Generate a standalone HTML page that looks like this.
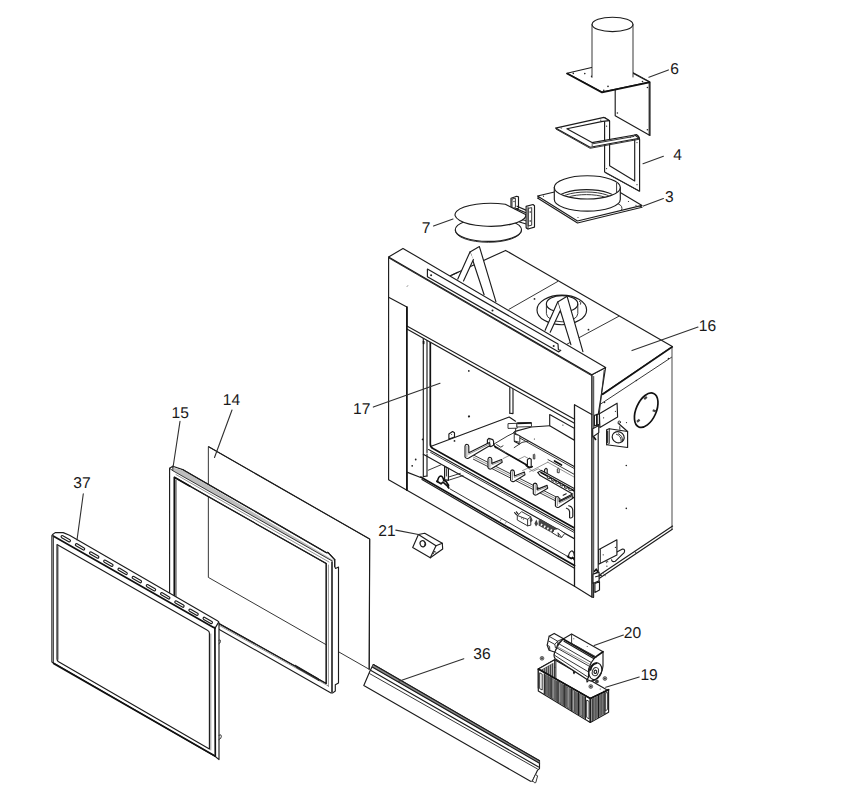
<!DOCTYPE html>
<html lang="en"><head><meta charset="utf-8"><title>Fireplace exploded parts diagram</title>
<style>
html,body{margin:0;padding:0;background:#fff}
svg{display:block}
.k{stroke:#1c1c1c;stroke-width:1.15;fill:none;stroke-linejoin:round;stroke-linecap:round}
.b{stroke:#111;stroke-width:1.7;fill:none;stroke-linejoin:round;stroke-linecap:round}
.t{stroke:#2c2c2c;stroke-width:.95;fill:none;stroke-linejoin:round;stroke-linecap:round}
.h{stroke:#666;stroke-width:.7;fill:none;stroke-linecap:round}
.w{fill:#fff}
.e{fill-rule:evenodd}
.g1{stroke:#5a5a5a;stroke-width:1.1;fill:none}
.ld{stroke:#303030;stroke-width:1.1;fill:none;stroke-linecap:round}
.rb{stroke:#4a4a4a;stroke-width:2;fill:none}
.gm{fill:#8e8e8e}
.gs{fill:#9a9a9a;stroke:#444;stroke-width:.7}
.hd{stroke:#3a3a3a;stroke-width:.75;fill:none}
.hw{stroke:#ddd;stroke-width:.6;fill:none}
.n{stroke:none}
.gy{fill:#bdbdbd}
.gd{fill:#8a8a8a}
.dk{fill:#444}
.d{fill:#222;stroke:none}
text{font-family:"Liberation Sans",Arial,Helvetica,sans-serif;font-size:15.6px;fill:#1a1a1a;text-rendering:geometricPrecision}
</style></head>
<body>
<svg width="859" height="800" viewBox="0 0 859 800">
<rect class="w n" x="0" y="0" width="859" height="800"/>
<!-- part 6 -->
<polygon class="k w" points="615.2,63.0 615.2,115.8 650.0,135.5 650.0,82.0"/>
<line class="k" x1="649.2" y1="82.5" x2="649.2" y2="135.0"/>
<circle class="d" cx="647.4" cy="87.5" r="0.8"/>
<circle class="d" cx="617.4" cy="113.0" r="0.8"/>
<circle class="d" cx="647.4" cy="129.8" r="0.8"/>
<polygon class="k w" points="567.0,73.3 602.0,92.0 649.3,82.0 613.0,62.5"/>
<polyline class="b" points="567.0,73.6 602.0,92.4 649.3,82.4"/>
<circle class="d" cx="573.3" cy="73.4" r="0.8"/>
<circle class="d" cx="584.8" cy="73.6" r="0.8"/>
<circle class="d" cx="603.8" cy="90.4" r="0.8"/>
<circle class="d" cx="608.0" cy="86.4" r="0.8"/>
<circle class="d" cx="642.5" cy="81.6" r="0.8"/>
<circle class="d" cx="591.6" cy="76.4" r="0.8"/>
<rect class="w n" x="592" y="24" width="41" height="50"/>
<path class="w n" d="M592,68 L592,77 Q612,86 633,75 L633,68 Z"/>
<line class="t" x1="592.0" y1="24.5" x2="592.0" y2="77.3"/>
<line class="t" x1="633.0" y1="24.5" x2="633.0" y2="77.0"/>
<ellipse class="k w" cx="612.5" cy="24.4" rx="20.4" ry="7.2"/>
<!-- part 4 -->
<path class="k w" d="M604.6,117.6 L604.6,172.1 L639.6,191.2 L639.6,139.5 Q639.4,136.5 636.3,134.6 L634.7,135 L634.7,180.9 L609.6,165.8 L609.6,121.0 Z"/>
<polyline class="t" points="605.6,172.8 638.6,190.8"/>
<path class="k w" d="M555.5,128.1 L604.0,117.4 L609.3,120.6 L602.7,121.4 L566.9,128.8 L592.0,142.6 L634.7,135.0 L639.3,138.2 L590.1,147.2 Z"/>
<polyline class="t" points="556.2,129.2 590.1,148.3 639.0,139.3"/>
<polyline class="t" points="592.0,143.9 634.0,136.4"/>
<circle class="d" cx="561.2" cy="128.1" r="0.6"/>
<circle class="d" cx="600.8" cy="120.2" r="0.6"/>
<circle class="d" cx="606.6" cy="126.2" r="0.6"/>
<circle class="d" cx="592.2" cy="145.2" r="0.6"/>
<circle class="d" cx="630.3" cy="137.2" r="0.6"/>
<circle class="d" cx="637.0" cy="142.6" r="0.6"/>
<circle class="d" cx="606.6" cy="168.6" r="0.6"/>
<circle class="d" cx="637.0" cy="184.7" r="0.6"/>
<!-- part 3 -->
<polygon class="k w" points="537.5,198.0 577.5,223.0 642.0,207.3 601.0,183.0"/>
<polygon class="k w" points="537.5,196.0 577.5,221.0 642.0,205.4 601.0,181.0"/>
<circle class="d" cx="543.5" cy="196.2" r="0.6"/>
<circle class="d" cx="578.0" cy="217.5" r="0.6"/>
<circle class="d" cx="636.0" cy="205.3" r="0.6"/>
<circle class="d" cx="628.5" cy="201.5" r="0.6"/>
<path class="k w" d="M554.3,187.4 L554.3,199.5 A33,11.6 0 0 0 620.3,199.5 L620.3,187.4 Z"/>
<path class="t" d="M618.5,204 Q623.5,206 621.5,210.5"/>
<ellipse class="k w" cx="587.3" cy="187.4" rx="33.0" ry="11.6"/>
<clipPath id="c3"><ellipse cx="587.3" cy="187.4" rx="32.4" ry="11"/></clipPath>
<g clip-path="url(#c3)">
<ellipse class="k" cx="586.5" cy="200.2" rx="30.5" ry="10.6"/>
<ellipse class="t" cx="586.5" cy="201.6" rx="28.5" ry="9.6"/>
<ellipse class="t" cx="586.5" cy="203.2" rx="26.5" ry="8.6"/>
</g>
<line class="t" x1="616.6" y1="183.4" x2="616.6" y2="192.4"/>
<!-- part 7 -->
<polygon class="k w" points="511.0,198.2 516.7,196.3 518.5,196.9 518.5,208.3 513.5,209.6 511.0,208.0"/>
<polygon class="t w" points="512.4,198.9 515.4,198.2 515.4,207.6 512.4,208.3"/>
<ellipse class="t w" cx="488.4" cy="230.6" rx="33.1" ry="11.7"/>
<ellipse class="k w" cx="488.4" cy="229.7" rx="33.1" ry="11.7"/>
<polyline class="k" points="517.0,206.2 526.5,210.4"/>
<polyline class="k" points="516.0,208.6 526.5,213.0"/>
<polyline class="k" points="519.5,222.0 527.0,224.2 527.0,228.4"/>
<polyline class="t" points="521.0,219.4 527.0,221.0"/>
<path class="k w" d="M505.3,204.3 A35.6,11.5 0 1 0 526.0,216.0 L525.6,214.6 Z"/>
<polygon class="k w" points="526.1,206.4 533.0,204.5 534.5,205.7 534.5,227.1 528.0,229.0 526.1,227.7"/>
<polygon class="t w" points="528.6,208.3 531.7,207.6 531.7,225.2 528.6,225.9"/>
<line class="t" x1="528.0" y1="229.0" x2="528.0" y2="207.4"/>
<circle class="d" cx="530.2" cy="212.0" r="0.8"/>
<circle class="d" cx="530.2" cy="221.0" r="0.8"/>
<circle class="d" cx="514.0" cy="201.5" r="0.7"/>
<!-- firebox top face -->
<polygon class="k w" points="505.6,250.4 672.3,346.5 602.7,393.9 500.0,340.0 440.0,280.5"/>
<line class="t" x1="557.7" y1="281.5" x2="509.0" y2="309.3"/>
<line class="t" x1="618.8" y1="316.3" x2="566.4" y2="344.5"/>
<circle class="d" cx="534.5" cy="298.9" r="0.9"/>
<circle class="d" cx="588.5" cy="329.7" r="0.9"/>
<ellipse class="k" cx="561.8" cy="309.9" rx="24.8" ry="14.8"/>
<path class="t" d="M546.4,304.2 L546.4,313.6 A15.7,8.2 0 0 0 577.8,313.6 L577.8,304.2"/>
<ellipse class="k" cx="562.1" cy="303.9" rx="15.7" ry="8.2"/>
<path class="t" d="M579.3,301.2 l1.6,1.2 l-0.4,1.8"/>
<!-- firebox right side -->
<polygon class="w n" points="672.3,346.5 672.3,529.2 598.7,578.8 597.6,397.4 602.7,393.9"/>
<polyline class="g1" points="672.0,347.5 672.0,529.2"/>
<polyline class="k" points="672.3,529.2 598.7,578.8"/>
<polyline class="t" points="671.5,357.3 600.7,404.0"/>
<polyline class="b" points="672.3,346.9 602.7,394.3"/>
<polyline class="k" points="672.6,526.0 597.6,576.2"/>
<circle class="d" cx="668.5" cy="358.5" r="0.8"/>
<circle class="d" cx="636.4" cy="380.5" r="0.8"/>
<circle class="d" cx="604.5" cy="402.5" r="0.8"/>
<circle class="d" cx="626.3" cy="465.5" r="0.8"/>
<circle class="d" cx="626.3" cy="508.4" r="0.8"/>
<ellipse class="b" cx="646.2" cy="410.2" rx="10.0" ry="18.3" transform="rotate(24.0 646.2 410.2)"/>
<rect class="dk n" x="643.8" y="396.9" width="3.4" height="2.2" transform="rotate(-40 645.5 398.0)"/>
<rect class="dk n" x="652.6" y="409.7" width="3.4" height="2.2" transform="rotate(20 654.3 410.8)"/>
<rect class="dk n" x="636.6" y="419.6" width="3.4" height="2.2" transform="rotate(-40 638.3 420.7)"/>
<polygon class="k w" points="599.4,413.8 617.1,403.2 617.6,417.1 599.9,427.6"/>
<circle class="d" cx="615.4" cy="411.3" r="0.6"/>
<circle class="d" cx="603.6" cy="417.8" r="0.6"/>
<polyline class="k" points="618.2,423.2 627.6,431.5"/>
<polyline class="t" points="619.8,426.6 619.8,429.3"/>
<circle class="t w" cx="619.3" cy="422.2" r="1.2"/>
<polygon class="k w" points="609.3,428.7 627.6,431.5 627.6,447.5 606.6,444.7 606.6,429.8"/>
<polyline class="t" points="609.3,428.7 609.3,443.6 606.6,444.7"/>
<polyline class="k" points="607.7,431.0 607.7,442.5"/>
<ellipse class="k" cx="618.2" cy="437.2" rx="6.1" ry="5.5" transform="rotate(25.0 618.2 437.2)"/>
<path class="t" d="M616.4,434.2 q5.2,1.6 4.8,7.2 M618.3,433.7 q4.6,2.0 4.2,6.9"/>
<circle class="d" cx="626.5" cy="422.6" r="0.6"/>
<path class="k" d="M616.9,552 L622.5,549 Q625.6,549 624.2,552.6 L615.4,561.2 Q612,562.4 611.6,559.8"/>
<polygon class="k w" points="598.6,549.7 616.9,539.8 616.9,554.9 598.6,564.2"/>
<line class="t" x1="600.4" y1="549.2" x2="600.4" y2="563.2"/>
<circle class="d" cx="603.2" cy="554.8" r="0.6"/>
<circle class="d" cx="615.4" cy="547.4" r="0.6"/>
<circle class="d" cx="606.7" cy="562.6" r="0.6"/>
<circle class="d" cx="606.9" cy="566.2" r="0.6"/>
<path class="t" d="M605.8,561.4 q1.2,-1.2 2.2,0"/>
<line class="t" x1="635.0" y1="551.8" x2="636.6" y2="553.3"/>
<line class="t" x1="603.7" y1="574.0" x2="605.3" y2="575.5"/>
<!-- A-frame stand-offs -->
<polygon class="w n" points="470.0,251.9 479.4,246.6 495.9,301.6 484.1,294.7"/>
<polyline class="k" points="484.1,294.7 470.0,251.9 479.4,246.6 495.9,301.6"/>
<polygon class="w n" points="470.0,251.9 457.8,279.1 463.5,281.0 473.4,259.4"/>
<polyline class="k" points="457.8,279.1 470.0,251.9"/>
<polyline class="k" points="473.4,259.4 463.5,281.0"/>
<polyline class="k" points="452.0,275.0 458.0,272.2"/>
<polygon class="w n" points="557.7,302.0 567.1,296.3 582.9,351.7 570.9,344.7"/>
<polyline class="k" points="570.9,344.7 557.7,302.0 567.1,296.3 582.9,351.7"/>
<polygon class="w n" points="557.7,302.0 545.1,330.3 550.2,332.2 560.2,310.8"/>
<polyline class="k" points="545.1,330.3 557.7,302.0"/>
<polyline class="k" points="560.2,310.8 550.2,332.2"/>
<!-- firebox front face -->
<polygon class="k w" points="591.8,374.8 605.6,367.5 599.8,404.5 598.2,414.5 598.2,571.5 593.4,575.0 593.4,597.4 591.8,597.0"/>
<polyline class="t" points="604.2,370.2 599.2,414.5"/>
<line class="t" x1="593.7" y1="376.5" x2="593.7" y2="597.0"/>
<polygon class="k w" points="388.6,257.0 591.8,374.8 591.8,597.0 574.5,586.2 388.6,479.7"/>
<polygon class="k w" points="388.6,257.0 403.0,248.4 605.6,367.5 591.8,374.8"/>
<polyline class="t" points="388.6,257.9 591.8,375.8"/>
<polyline class="k" points="388.6,297.2 406.9,307.0 406.9,490.2"/>
<polyline class="k" points="574.5,586.2 574.5,404.8 591.8,414.6"/>
<line class="h" x1="407.0" y1="286.6" x2="407.8" y2="285.6"/>
<polygon class="w n" points="406.9,326.1 574.5,419.2 574.5,565.5 420.7,477.1 406.9,472.1"/>
<polyline class="k" points="406.9,326.1 574.5,419.2"/>
<polyline class="k" points="406.9,329.0 574.5,423.3"/>
<clipPath id="op"><polygon points="407.4,329.4 574.0,423.6 574.0,565.2 420.7,477.1 407.4,472.3"/></clipPath>
<g clip-path="url(#op)">
<polyline class="k" points="509.8,385.0 509.8,413.2"/>
<polyline class="k" points="513.0,385.0 513.0,413.6 509.8,413.2"/>
<polyline class="k" points="430.6,446.5 509.2,417.0 515.5,421.2"/>
<polygon class="k w" points="549.7,414.5 574.4,428.3 574.4,440.2 549.7,425.8"/>
<circle class="d" cx="562.9" cy="425.1" r="0.6"/>
<polyline class="k" points="515.1,431.4 531.4,427.0 549.7,425.8"/>
<polyline class="k" points="513.8,432.7 574.4,466.6"/>
<polyline class="t" points="515.2,435.4 574.4,468.6"/>
<polyline class="k" points="513.8,432.7 515.1,431.4"/>
<circle class="d" cx="534.4" cy="439.0" r="0.6"/>
<polygon class="t w" points="508.4,423.6 517.2,423.3 517.2,428.2 508.4,428.4"/>
<polygon class="t w" points="517.2,422.9 531.2,422.5 531.6,426.6 517.2,427.0"/>
<polyline class="b" points="518.0,423.4 531.0,423.0"/>
<polyline class="t" points="515.6,428.4 515.6,433.4"/>
<polygon class="t w" points="514.6,434.2 519.8,435.6 519.8,442.4 514.6,441.0"/>
<polyline class="t" points="514.2,447.6 522.0,442.4 528.0,441.2"/>
<polyline class="k" points="514.4,441.4 519.5,444.0"/>
<polygon class="k w" points="448.9,439.0 448.9,434.0 452.6,431.5 454.5,432.7 454.5,437.0"/>
<circle class="d" cx="451.6" cy="434.4" r="0.5"/>
<circle class="d" cx="469.2" cy="416.3" r="0.9"/>
<circle class="d" cx="454.5" cy="440.9" r="0.9"/>
<circle class="d" cx="468.8" cy="370.9" r="0.9"/>
<circle class="d" cx="422.6" cy="439.4" r="0.9"/>
<circle class="d" cx="415.7" cy="459.5" r="0.9"/>
<circle class="d" cx="412.2" cy="465.8" r="0.9"/>
<circle class="d" cx="468.8" cy="416.5" r="0.9"/>
<polyline class="t" points="494.1,444.0 507.9,435.8 513.6,433.0"/>
<polyline class="t" points="494.1,444.0 495.6,448.0"/>
<polyline class="h" points="529.5,471.7 547.8,462.2"/>
<polyline class="h" points="547.8,462.2 574.0,477.0"/>
<polyline class="h" points="503.0,458.6 509.5,455.4 517.6,459.8 524.6,456.4 530.4,459.6"/>
<polyline class="h" points="522.5,470.6 527.8,468.2 533.2,471.2 538.2,468.8 543.0,471.6"/>
<polyline class="b" points="494.8,446.6 527.6,465.6"/>
<polyline class="t" points="496.6,444.6 500.8,447.2 503.0,445.8"/>
<polyline class="h" points="498.0,448.0 505.6,452.6"/>
<polygon class="k w" points="527.4,466.4 527.4,459.6 529.4,458.2 531.2,459.2 531.2,466.8 529.2,467.8"/>
<path class="b" d="M526.2,465.4 q3,3.2 6,1.2"/>
<polygon class="k w" points="544.6,475.2 544.6,469.6 545.9,468.3 547.2,469.2 547.2,475.6"/>
<path class="b" d="M543.4,474.4 q3,3.4 6,1.4"/>
<polygon class="t w" points="533.3,458.4 533.3,454.6 534.0,453.9 534.8,454.6 534.8,458.6"/>
<polygon class="t w" points="557.3,472.2 557.3,469.0 558.2,468.2 559.2,469.0 559.2,472.4"/>
<polygon class="k w" points="537.7,472.4 541.5,470.4 574.4,488.6 574.4,497.0 563.5,503.0 560.0,500.6 572.6,494.0 540.2,475.6"/>
<polyline class="b" points="541.0,472.6 574.4,491.0"/>
<ellipse class="t w" cx="548.6" cy="477.6" rx="1.5" ry="0.9" transform="rotate(29 548.6 477.6)"/>
<ellipse class="t w" cx="552.9" cy="480.0" rx="1.5" ry="0.9" transform="rotate(29 552.9 480.0)"/>
<ellipse class="t w" cx="557.2" cy="482.4" rx="1.5" ry="0.9" transform="rotate(29 557.2 482.4)"/>
<ellipse class="t w" cx="561.5" cy="484.8" rx="1.5" ry="0.9" transform="rotate(29 561.5 484.8)"/>
<ellipse class="t w" cx="565.8" cy="487.2" rx="1.5" ry="0.9" transform="rotate(29 565.8 487.2)"/>
<ellipse class="t w" cx="570.1" cy="489.6" rx="1.5" ry="0.9" transform="rotate(29 570.1 489.6)"/>
<polyline class="k" points="563.2,495.2 566.2,493.8"/>
<polyline class="t" points="548.0,459.6 574.0,474.2"/>
<polyline class="b" points="554.5,461.0 561.5,465.0"/>
<polyline class="t" points="473.4,455.0 562.0,499.9"/>
<polyline class="h" points="473.4,457.1 562.0,502.0"/>
<polyline class="t" points="473.4,459.2 562.0,504.1"/>
<polygon class="k w" points="487.4,445.6 487.4,440.0 488.8,438.4 492.8,439.6 493.6,441.4 493.6,445.2 491.0,446.6"/>
<polyline class="h" points="489.8,439.4 489.8,445.4"/>
<path class="k w" d="M465.0,457.0 L465.0,446.3 Q465.0,444.4 466.8,444.3 Q468.6,444.4 468.8,446.4 L468.8,452.8 L489.4,442.6 L490.0,445.4 L468.4,458.2 Q466.4,459.2 465.0,457.0 Z"/>
<polyline class="h" points="466.9,446.0 466.9,456.8"/>
<polyline class="h" points="468.8,454.2 489.6,444.0"/>
<path class="k w" d="M488.0,467.6 L488.0,459.3 Q488.0,457.4 489.8,457.3 Q491.6,457.4 491.8,459.4 L491.8,463.4 L501.6,459.5 L502.2,462.3 L491.4,468.8 Q489.4,469.8 488.0,467.6 Z"/>
<polyline class="h" points="489.9,459.0 489.9,467.4"/>
<polyline class="h" points="491.8,464.8 501.8,460.9"/>
<path class="k w" d="M510.6,480.2 L510.6,471.9 Q510.6,470.0 512.4,469.9 Q514.2,470.0 514.4,472.0 L514.4,476.0 L524.4,472.0 L525.0,474.8 L514.0,481.4 Q512.0,482.4 510.6,480.2 Z"/>
<polyline class="h" points="512.5,471.6 512.5,480.0"/>
<polyline class="h" points="514.4,477.4 524.6,473.4"/>
<path class="k w" d="M533.3,493.6 L533.3,485.1 Q533.3,483.2 535.1,483.1 Q536.9,483.2 537.1,485.2 L537.1,489.4 L547.1,485.4 L547.7,488.2 L536.7,494.8 Q534.7,495.8 533.3,493.6 Z"/>
<polyline class="h" points="535.2,484.8 535.2,493.4"/>
<polyline class="h" points="537.1,490.8 547.3,486.8"/>
<path class="k w" d="M555.4,506.0 L555.4,498.5 Q555.4,496.6 557.2,496.5 Q559.0,496.6 559.2,498.6 L559.2,501.8 L572.2,495.4 L572.8,498.2 L558.8,507.2 Q556.8,508.2 555.4,506.0 Z"/>
<polyline class="h" points="557.3,498.2 557.3,505.8"/>
<polyline class="h" points="559.2,503.2 572.4,496.8"/>
<path class="k w" d="M568.6,505.8 Q572.8,506.6 572.8,511.0 L572.8,516.4 Q572.0,518.6 569.6,517.8 L569.6,511.6 Q569.4,509.0 566.4,508.2"/>
<polyline class="k" points="423.3,338.0 423.3,476.6"/>
<polyline class="k" points="427.0,340.2 427.0,452.6"/>
<path class="b" d="M430.3,342.2 L430.3,444.4 Q430.4,447.2 433.0,448.4 L574.4,528.0"/>
<polyline class="k" points="428.6,449.6 574.4,530.6"/>
<polyline class="t" points="430.6,452.4 574.4,532.6"/>
<polyline class="k" points="423.3,454.2 574.4,538.7"/>
<line class="b" x1="423.6" y1="341.6" x2="423.6" y2="343.4"/>
<polyline class="k" points="427.0,454.0 427.0,476.0"/>
<polyline class="t" points="428.3,470.2 441.5,464.6"/>
<polygon class="k w" points="444.6,479.6 444.6,466.4 448.4,468.4 448.4,480.4"/>
<polyline class="t" points="446.4,468.6 446.4,476.0"/>
<polyline class="t" points="448.4,477.1 460.3,473.4"/>
<polyline class="t" points="448.4,480.3 463.0,475.6"/>
<polyline class="k" points="423.3,476.6 427.0,476.0"/>
<path class="b" d="M437.4,481.6 q1.0,-5.4 3.4,-5.6 q2.2,0.4 3.0,4.6 q2.4,-0.2 3.2,2.4 q2.0,1.8 1.2,4.0"/>
<path class="b" d="M436.8,481.2 l4.2,2.6 l2.0,-1.6 l4.2,3.6 l1.6,2.2"/>
<polyline class="t" points="450.3,489.1 570.4,558.0"/>
<polyline class="h" points="500.4,520.6 501.4,519.0"/>
<polyline class="h" points="505.4,523.4 506.4,521.8"/>
<polygon class="t w" points="517.6,515.6 521.6,511.6 530.8,516.8 530.8,525.2 527.6,525.8 517.6,520.2"/>
<polyline class="t" points="530.8,516.8 527.6,519.4 527.6,525.8"/>
<polyline class="t" points="527.6,519.4 517.6,515.6"/>
<polyline class="k" points="514.6,512.6 516.6,514.8"/>
<polyline class="k" points="516.4,511.8 518.0,513.8"/>
<circle class="d" cx="521.6" cy="518.0" r="0.6"/>
<circle class="d" cx="523.4" cy="519.0" r="0.6"/>
<polygon class="dk n" points="529.6,520.0 531.6,517.6 532.6,520.6 530.6,522.6"/>
<polygon class="dk n" points="534.4,523.6 536.4,519.6 538.0,524.0 536.0,526.6"/>
<polygon class="dk n" points="538.6,520.6 541.4,519.6 555.6,528.0 554.6,532.0 551.6,532.8 538.6,525.4"/>
<rect class="w n" x="541.4" y="523.4" width="1.5" height="2.2" transform="rotate(30 541.4 523.4)"/>
<rect class="w n" x="544.6" y="525.3" width="1.5" height="2.2" transform="rotate(30 544.6 525.3)"/>
<rect class="w n" x="547.8" y="527.2" width="1.5" height="2.2" transform="rotate(30 547.8 527.2)"/>
<rect class="w n" x="551.0" y="529.1" width="1.5" height="2.2" transform="rotate(30 551.0 529.1)"/>
<polygon class="t w" points="554.6,529.2 558.0,528.8 564.8,533.4 561.6,537.4 558.6,536.6 552.6,533.0"/>
<polyline class="t" points="558.6,536.6 558.0,532.8 561.6,537.4"/>
<path class="k" d="M568.4,557.6 q0.2,-5.6 3.6,-6.8 q2.4,1.2 2.2,5.0"/>
<path class="b" d="M567.6,556.4 l3.6,2.2 l1.6,-1.2 l1.6,2.4"/>
</g>
<polyline class="b" points="406.9,307.0 406.9,490.0"/>
<polyline class="k" points="574.5,404.8 574.5,586.2"/>
<polyline class="k" points="406.9,472.1 420.7,477.5"/>
<polyline class="b" points="420.7,477.1 574.5,565.5"/>
<polyline class="k" points="422.0,479.6 574.5,568.2"/>
<polygon class="k w" points="427.4,269.0 558.0,344.1 558.4,349.8 560.8,350.2 558.8,351.9 427.4,276.8"/>
<circle class="d" cx="431.1" cy="275.2" r="1.0"/>
<circle class="d" cx="492.5" cy="310.6" r="1.0"/>
<circle class="d" cx="553.7" cy="345.9" r="1.0"/>
<polygon class="k w" points="594.4,415.4 599.4,413.8 599.4,424.3 594.4,425.9"/>
<polygon class="k w" points="592.7,428.7 598.8,425.4 598.8,432.6 592.7,437.0"/>
<line class="b" x1="596.9" y1="414.6" x2="596.9" y2="425.1"/>
<polyline class="b" points="594.2,437.6 595.6,439.4"/>
<polygon class="k w" points="593.0,574.1 599.1,572.2 599.1,580.7 593.0,583.5"/>
<polygon class="k w" points="594.9,583.5 599.5,581.6 599.5,590.0 594.9,592.4"/>
<polyline class="k" points="595.6,576.8 601.5,575.2"/>
<polyline class="b" points="594.5,571.2 596.2,569.2 597.6,571.4"/>
<!-- part 14 glass -->
<polygon class="t w" points="208.7,446.8 369.7,539.1 369.2,669.3 208.7,577.6"/>
<polyline class="k" points="208.7,446.8 369.7,539.1 369.2,669.3"/>
<!-- part 15 frame -->
<path class="k w e" d="M169.6,468.3 L172.8,466.2 L183.4,469.9 L326.5,552.7 L327.9,552.4 L334.7,559.6 L334.7,566.6 L335.6,568.4 L338.5,567.1 L338.5,682.9 L335.3,684.7 L335.3,691.0 L332.8,692.9 L331.0,692.9 L169.6,601.3 Z M174.4,477.3 L326.2,563.6 L326.2,683.4 L174.4,598.7 Z"/>
<polygon class="gy n" points="172.8,467.4 183.4,470.6 334.0,560.4 332.4,561.2 172.8,470.8"/>
<polyline class="t" points="172.8,470.7 332.2,561.0"/>
<polyline class="h" points="176.0,474.6 329.0,562.0"/>
<polyline class="k" points="183.4,469.9 326.5,552.7 327.9,552.4 334.7,559.6"/>
<polyline class="t" points="169.6,468.3 172.8,470.7 172.8,466.2"/>
<polyline class="rb" points="332.0,561.4 332.0,692.6"/>
<polyline class="h" points="328.4,565.0 328.4,686.4"/>
<polyline class="k" points="334.7,559.6 334.7,566.6"/>
<polyline class="b" points="174.4,598.7 174.4,477.3 190.0,486.2"/>
<polyline class="k" points="190.0,486.2 326.2,563.6"/>
<polyline class="t" points="176.0,597.4 176.0,480.2"/>
<polyline class="k" points="326.2,563.6 326.2,683.4 174.4,598.7"/>
<polyline class="h" points="176.0,601.4 328.4,686.0"/>
<polyline class="k" points="295.1,665.3 317.7,678.5 318.8,680.4"/>
<polyline class="t" points="295.1,665.3 296.4,667.6 318.0,680.0"/>
<!-- part 37 front -->
<path class="k w" d="M51.9,535.7 L53.0,534.2 L55.2,532.6 L63.2,532.6 L69.5,535.3 L217.4,620.8 Q219.2,621.8 219.0,623.2 L219.0,759.6 L215.0,756.2 L51.9,662.1 Z"/>
<polyline class="b" points="53.2,535.9 213.6,627.4 215.2,627.9"/>
<polyline class="k" points="215.2,627.9 218.4,622.6"/>
<polyline class="b" points="214.9,628.0 215.3,756.0"/>
<polyline class="t" points="53.4,536.6 53.4,662.6"/>
<path class="k w" d="M57.0,544.5 L207.4,630.2 Q209.4,631.2 209.4,633.0 L209.4,749.1 L58.6,661.8 Q57.0,660.8 57.0,659.0 Z"/>
<polyline class="t" points="57.9,546.6 57.9,659.4"/>
<polyline class="h" points="210.8,634.0 210.8,750.0"/>
<polyline class="b" points="53.6,663.4 215.0,756.0"/>
<rect class="k w" x="60.6" y="537.6" width="10.4" height="2.3" rx="1.15" transform="rotate(29.9 65.8 538.7)"/>
<rect class="k w" x="74.8" y="545.7" width="10.4" height="2.3" rx="1.15" transform="rotate(29.9 80.0 546.9)"/>
<rect class="k w" x="89.0" y="553.9" width="10.4" height="2.3" rx="1.15" transform="rotate(29.9 94.2 555.0)"/>
<rect class="k w" x="103.2" y="562.1" width="10.4" height="2.3" rx="1.15" transform="rotate(29.9 108.4 563.2)"/>
<rect class="k w" x="117.4" y="570.2" width="10.4" height="2.3" rx="1.15" transform="rotate(29.9 122.6 571.4)"/>
<rect class="k w" x="131.6" y="578.4" width="10.4" height="2.3" rx="1.15" transform="rotate(29.9 136.8 579.6)"/>
<rect class="k w" x="145.8" y="586.6" width="10.4" height="2.3" rx="1.15" transform="rotate(29.9 151.0 587.7)"/>
<rect class="k w" x="160.0" y="594.7" width="10.4" height="2.3" rx="1.15" transform="rotate(29.9 165.2 595.9)"/>
<rect class="k w" x="174.2" y="602.9" width="10.4" height="2.3" rx="1.15" transform="rotate(29.9 179.4 604.1)"/>
<rect class="k w" x="188.4" y="611.1" width="10.4" height="2.3" rx="1.15" transform="rotate(29.9 193.6 612.2)"/>
<rect class="k w" x="202.6" y="619.3" width="10.4" height="2.3" rx="1.15" transform="rotate(29.9 207.8 620.4)"/>
<path class="t" d="M219.0,640.2 q1.8,-1.2 1.4,1.4 q-0.2,1.8 -1.4,2.2"/>
<path class="t" d="M219.0,735.2 q2.4,-1.4 2.4,1.0 q0,2.6 -2.4,3.4"/>
<!-- part 36 trim -->
<polygon class="k w" points="373.3,664.5 539.5,760.8 539.5,768.6 537.4,770.4 532.4,781.0 530.5,781.3 363.8,685.5 370.0,671.0"/>
<polygon class="gd n" points="373.3,664.5 539.5,760.8 539.5,763.4 372.2,667.2"/>
<polyline class="k" points="373.3,664.5 539.5,760.8"/>
<polyline class="k" points="372.2,667.0 539.5,763.2"/>
<polyline class="k" points="371.0,670.4 538.6,767.0"/>
<polyline class="t" points="369.6,673.6 537.4,768.9"/>
<path class="t w" d="M532.4,781.0 L535.4,774.6 L537.6,775.8 L535.8,782.6 Q534.4,783.6 533.8,782.0 Z"/>
<!-- part 21 -->
<polygon class="k w" points="418.4,534.5 424.7,533.3 442.3,543.3 442.7,549.0 430.3,557.8 412.7,547.5"/>
<polyline class="k" points="418.4,534.5 436.0,545.8 430.3,557.8"/>
<polyline class="k" points="436.0,545.8 442.3,543.3"/>
<ellipse class="k" cx="422.8" cy="543.7" rx="2.7" ry="3.1" transform="rotate(-20.0 422.8 543.7)"/>
<path class="t" d="M424.2,541.2 q1.6,2.4 0.2,5.0"/>
<polyline class="t" points="433.4,553.6 434.6,551.0 435.8,552.4"/>
<!-- part 19 grille box -->
<polygon class="k w" points="538.3,669.1 554.7,659.7 606.3,689.5 608.6,689.7 590.3,698.6"/>
<polygon class="k w" points="538.3,669.1 554.7,659.7 554.7,678.6 538.3,688.0"/>
<polygon class="dk n" points="539.8,670.6 553.4,662.8 553.4,677.6 539.8,685.4"/>
<line class="hw" x1="541.8" y1="669.7" x2="541.8" y2="684.3"/>
<line class="hw" x1="543.7" y1="668.6" x2="543.7" y2="683.2"/>
<line class="hw" x1="545.6" y1="667.5" x2="545.6" y2="682.1"/>
<line class="hw" x1="547.6" y1="666.4" x2="547.6" y2="681.0"/>
<line class="hw" x1="549.5" y1="665.3" x2="549.5" y2="679.9"/>
<line class="hw" x1="551.5" y1="664.2" x2="551.5" y2="678.8"/>
<polyline class="t" points="555.9,660.6 555.9,679.6"/>
<circle class="d" cx="554.9" cy="667.2" r="0.5"/>
<polygon class="k w" points="538.3,669.1 590.3,698.6 590.3,722.5 538.3,691.1"/>
<polygon class="gm n" points="544.3,673.7 585.4,697.0 585.4,718.9 544.3,694.1"/>
<line class="k" x1="544.3" y1="673.7" x2="544.3" y2="694.1"/>
<line class="hd" x1="545.6" y1="674.5" x2="545.6" y2="694.9"/>
<line class="hd" x1="547.0" y1="675.2" x2="547.0" y2="695.8"/>
<line class="hd" x1="548.4" y1="676.0" x2="548.4" y2="696.6"/>
<line class="hd" x1="549.8" y1="676.8" x2="549.8" y2="697.4"/>
<line class="k" x1="551.1" y1="677.6" x2="551.1" y2="698.2"/>
<line class="hd" x1="552.5" y1="678.4" x2="552.5" y2="699.1"/>
<line class="hd" x1="553.9" y1="679.1" x2="553.9" y2="699.9"/>
<line class="hd" x1="555.2" y1="679.9" x2="555.2" y2="700.7"/>
<line class="hd" x1="556.6" y1="680.7" x2="556.6" y2="701.6"/>
<line class="k" x1="558.0" y1="681.5" x2="558.0" y2="702.4"/>
<line class="hd" x1="559.3" y1="682.2" x2="559.3" y2="703.2"/>
<line class="hd" x1="560.7" y1="683.0" x2="560.7" y2="704.0"/>
<line class="hd" x1="562.1" y1="683.8" x2="562.1" y2="704.9"/>
<line class="hd" x1="563.5" y1="684.6" x2="563.5" y2="705.7"/>
<line class="k" x1="564.8" y1="685.3" x2="564.8" y2="706.5"/>
<line class="hd" x1="566.2" y1="686.1" x2="566.2" y2="707.3"/>
<line class="hd" x1="567.6" y1="686.9" x2="567.6" y2="708.2"/>
<line class="hd" x1="568.9" y1="687.7" x2="568.9" y2="709.0"/>
<line class="hd" x1="570.3" y1="688.5" x2="570.3" y2="709.8"/>
<line class="k" x1="571.7" y1="689.2" x2="571.7" y2="710.6"/>
<line class="hd" x1="573.0" y1="690.0" x2="573.0" y2="711.5"/>
<line class="hd" x1="574.4" y1="690.8" x2="574.4" y2="712.3"/>
<line class="hd" x1="575.8" y1="691.6" x2="575.8" y2="713.1"/>
<line class="hd" x1="577.1" y1="692.3" x2="577.1" y2="714.0"/>
<line class="k" x1="578.5" y1="693.1" x2="578.5" y2="714.8"/>
<line class="hd" x1="579.9" y1="693.9" x2="579.9" y2="715.6"/>
<line class="hd" x1="581.3" y1="694.7" x2="581.3" y2="716.4"/>
<line class="hd" x1="582.6" y1="695.4" x2="582.6" y2="717.3"/>
<line class="hd" x1="584.0" y1="696.2" x2="584.0" y2="718.1"/>
<line class="k" x1="585.4" y1="697.0" x2="585.4" y2="718.9"/>
<line class="hw" x1="553.0" y1="679.3" x2="553.0" y2="698.4"/>
<line class="hw" x1="559.8" y1="683.1" x2="559.8" y2="702.5"/>
<line class="hw" x1="568.1" y1="687.8" x2="568.1" y2="707.5"/>
<line class="hw" x1="573.3" y1="690.8" x2="573.3" y2="710.6"/>
<line class="hw" x1="581.1" y1="695.2" x2="581.1" y2="715.3"/>
<polygon class="t w" points="540.0,673.0 542.2,674.2 542.2,690.0 540.0,688.8"/>
<polygon class="t w" points="587.0,700.2 589.0,701.4 589.0,718.8 587.0,717.6"/>
<polygon class="k w" points="590.3,698.6 608.6,689.7 608.6,712.2 590.3,722.5"/>
<polygon class="gm n" points="592.1,698.7 604.9,692.5 604.9,713.8 592.1,721.0"/>
<line class="k" x1="592.1" y1="698.7" x2="592.1" y2="721.0"/>
<line class="hd" x1="593.7" y1="697.9" x2="593.7" y2="720.1"/>
<line class="hd" x1="595.3" y1="697.2" x2="595.3" y2="719.2"/>
<line class="hd" x1="596.9" y1="696.4" x2="596.9" y2="718.3"/>
<line class="k" x1="598.5" y1="695.6" x2="598.5" y2="717.4"/>
<line class="hd" x1="600.1" y1="694.8" x2="600.1" y2="716.5"/>
<line class="hd" x1="601.7" y1="694.0" x2="601.7" y2="715.6"/>
<line class="hd" x1="603.3" y1="693.3" x2="603.3" y2="714.7"/>
<line class="k" x1="604.9" y1="692.5" x2="604.9" y2="713.8"/>
<polygon class="t w" points="605.6,693.2 607.4,692.2 607.4,709.6 605.6,710.6"/>
<polyline class="b" points="538.3,669.1 590.3,698.6 608.6,689.7"/>
<polyline class="k" points="590.3,698.6 590.3,722.5"/>
<circle class="d" cx="600.2" cy="689.0" r="0.5"/>
<circle class="d" cx="604.0" cy="691.0" r="0.5"/>
<!-- part 20 blower -->
<polygon class="k w" points="549.1,636.3 554.2,633.4 563.1,638.6 558.0,643.8 555.2,652.2 549.1,650.3 547.2,645.2"/>
<polyline class="t" points="549.1,636.3 557.6,641.2 558.0,643.8"/>
<polyline class="t" points="557.6,641.2 563.1,638.6"/>
<polyline class="t" points="548.6,641.0 554.8,644.4 555.4,647.6"/>
<polyline class="t" points="547.2,645.2 549.6,646.4 549.8,650.4"/>
<polyline class="t" points="554.8,644.4 557.6,641.2"/>
<path class="k w" d="M563.1,639.1 L571.6,633.9 L603.0,651.7 L603.0,666.0 Q602.4,674.0 595.6,679.4 Q592.6,681.4 589.6,680.6 L587.1,679.4 L555.2,658.8 Q553.2,656.0 554.6,652.4 L558.9,643.8 Z"/>
<polyline class="t" points="571.6,634.4 571.6,643.4"/>
<polyline class="b" points="563.1,639.1 595.0,657.4 603.0,651.7"/>
<polyline class="k" points="564.0,641.2 593.6,658.6"/>
<polyline class="t" points="571.6,643.4 596.4,657.0"/>
<circle class="d" cx="573.8" cy="638.8" r="0.5"/>
<circle class="d" cx="587.2" cy="646.4" r="0.5"/>
<polyline class="t" points="558.9,643.8 591.3,662.5"/>
<polyline class="t" points="557.0,648.0 589.4,666.3"/>
<polyline class="t" points="555.2,652.2 588.5,671.9"/>
<polyline class="t" points="554.2,655.0 588.5,677.5"/>
<polyline class="h" points="556.0,646.0 590.2,664.6"/>
<polyline class="k" points="595.0,657.4 591.3,662.5 588.6,669.0 588.5,677.5 587.1,679.4"/>
<ellipse class="k" cx="595.4" cy="671.2" rx="6.2" ry="8.6" transform="rotate(18.0 595.4 671.2)"/>
<path class="b" d="M590.6,669.8 Q591.4,664.6 596.6,663.2"/>
<ellipse class="t" cx="595.4" cy="671.6" rx="3.0" ry="4.2" transform="rotate(18.0 595.4 671.6)"/>
<ellipse class="k" cx="595.4" cy="671.8" rx="1.3" ry="1.7" transform="rotate(18.0 595.4 671.8)"/>
<polyline class="k" points="573.4,671.6 573.9,673.6 574.6,672.4"/>
<polyline class="k" points="586.8,679.8 587.0,682.0 588.2,680.8"/>
<circle class="gs" cx="542.0" cy="658.3" r="1.9"/>
<circle class="d" cx="542.0" cy="658.3" r="0.8"/>
<circle class="gs" cx="604.9" cy="678.5" r="1.9"/>
<circle class="d" cx="604.9" cy="678.5" r="0.8"/>
<circle class="dk" cx="596.9" cy="681.4" r="1.9"/>
<circle class="gs" cx="590.8" cy="686.5" r="1.9"/>
<circle class="d" cx="590.8" cy="686.5" r="0.8"/>
<!-- labels -->
<text x="674.5" y="73.8" text-anchor="middle">6</text>
<text x="677.6" y="159.6" text-anchor="middle">4</text>
<text x="669.3" y="202.2" text-anchor="middle">3</text>
<text x="426.0" y="232.8" text-anchor="middle">7</text>
<text x="707.5" y="330.6" text-anchor="middle">16</text>
<text x="361.8" y="414.4" text-anchor="middle">17</text>
<text x="231.4" y="405.4" text-anchor="middle">14</text>
<text x="180.2" y="418.1" text-anchor="middle">15</text>
<text x="81.9" y="487.9" text-anchor="middle">37</text>
<text x="387.0" y="536.2" text-anchor="middle">21</text>
<text x="481.9" y="659.2" text-anchor="middle">36</text>
<text x="632.5" y="638.4" text-anchor="middle">20</text>
<text x="649.1" y="679.8" text-anchor="middle">19</text>
<!-- leader lines -->
<line class="ld" x1="668.4" y1="69.9" x2="648.9" y2="77.3"/>
<line class="ld" x1="663.4" y1="156.2" x2="643.0" y2="163.7"/>
<line class="ld" x1="663.4" y1="198.5" x2="643.3" y2="206.1"/>
<line class="ld" x1="433.5" y1="226.0" x2="453.0" y2="219.0"/>
<line class="ld" x1="698.0" y1="327.1" x2="632.0" y2="350.6"/>
<line class="ld" x1="232.0" y1="410.0" x2="214.5" y2="457.5"/>
<line class="ld" x1="180.0" y1="421.3" x2="173.0" y2="467.5"/>
<line class="ld" x1="83.3" y1="493.8" x2="77.0" y2="540.0"/>
<line class="ld" x1="395.8" y1="530.1" x2="418.4" y2="534.5"/>
<line class="ld" x1="373.3" y1="407.1" x2="440.0" y2="383.2"/>
<line class="ld" x1="463.8" y1="658.8" x2="398.8" y2="681.3"/>
<line class="ld" x1="623.4" y1="635.1" x2="594.1" y2="645.4"/>
<line class="ld" x1="639.2" y1="677.0" x2="605.7" y2="687.3"/>
</svg>
</body></html>
